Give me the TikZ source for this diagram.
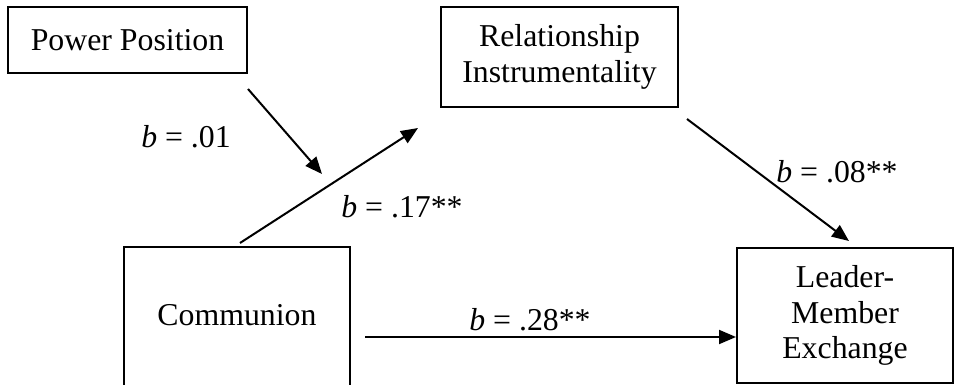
\documentclass[tikz,border=0pt]{standalone}
\usepackage{fontspec}
\setmainfont{Liberation Serif}
\usetikzlibrary{arrows.meta}
\begin{document}
\begin{tikzpicture}[x=0.5pt,y=-0.5pt,
  box/.style={draw,line width=1pt,inner sep=0pt,align=center,font=\fontsize{15.9}{17.6}\selectfont},
  lbl/.style={font=\fontsize{15.9}{17.6}\selectfont,inner sep=0pt},
  arr/.style={line width=1pt,-{Triangle[length=8.5pt,width=7pt]}}]
\useasboundingbox (0,0) rectangle (955,385);
% boxes
\node[box,minimum width=119.5pt,minimum height=33pt] (pp) at (127.5,40) {Power Position};
\node[box,minimum width=118.5pt,minimum height=50pt] (ri) at (559.5,57) {Relationship\\Instrumentality};
\node[box,minimum width=108pt,minimum height=67.5pt] (lmx) at (845,315.5) {Leader-\\Member\\Exchange};
\node[lbl] (com) at (237,315) {Communion};
\draw[line width=1pt] (124,390) -- (124,247) -- (350,247) -- (350,390);
% connector end points
\coordinate (ppS) at (248,89);
\coordinate (ppT) at (322,174);
\coordinate (comS) at (240,243);
\coordinate (riT) at (418,128);
\coordinate (riS) at (687,119);
\coordinate (lmxT) at (849,241);
\coordinate (comH) at (365,337);
% connectors
\draw[arr] (ppS) -- (ppT);
\draw[arr] (comS) -- (riT);
\draw[arr] (riS) -- (lmxT);
\draw[arr] (comH) -- (comH -| lmx.west);
% labels
\node[lbl] (l1) at (186,137) {\textit{b} = .01};
\node[lbl] (l2) at (402,207) {\textit{b} = .17**};
\node[lbl] (l3) at (837,172) {\textit{b} = .08**};
\node[lbl] (l4) at (530,320) {\textit{b} = .28**};
\end{tikzpicture}
\end{document}
